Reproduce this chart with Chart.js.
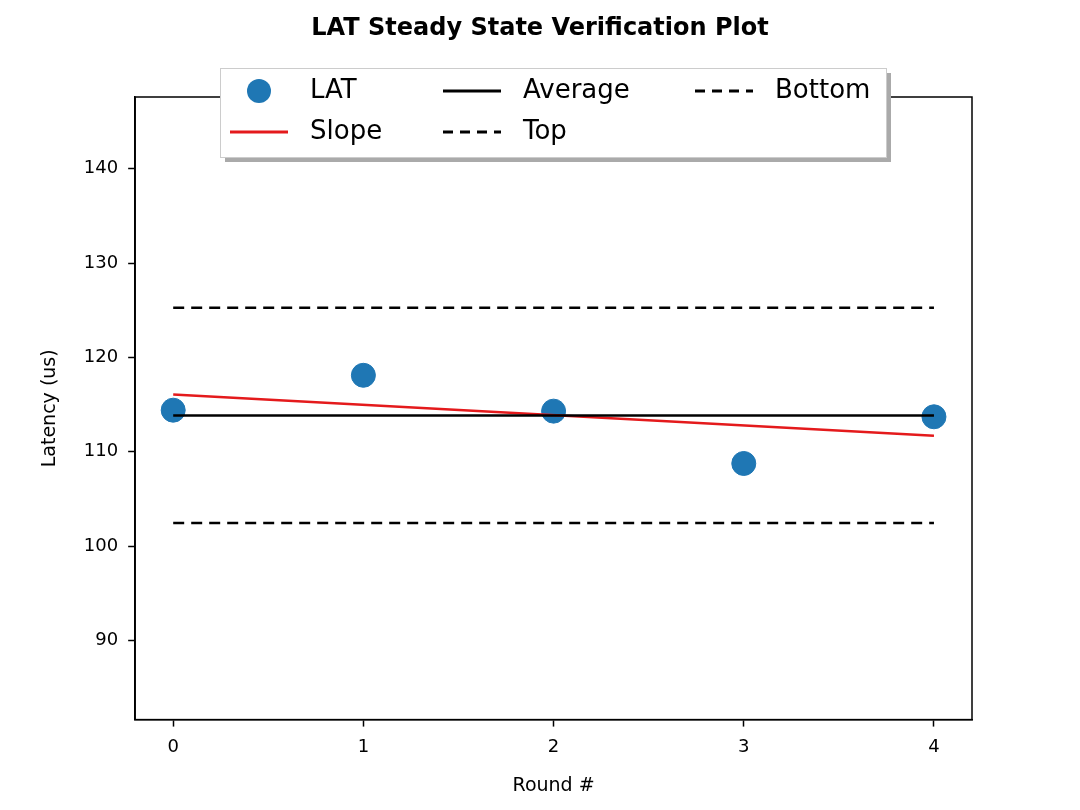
<!DOCTYPE html>
<html><head><meta charset="utf-8">
<script src="https://cdn.jsdelivr.net/npm/chart.js@4"></script>
<style>html,body{margin:0;background:#fff}#w{width:1080px;height:810px}</style>
</head><body><div id="w"><canvas id="c" width="1080" height="810"></canvas></div>
<script>
const rounds = [0, 1, 2, 3, 4];
const latency = [114.4, 118.1, 114.3, 108.75, 113.7];
const average = 113.85;
const top_ = 125.25;
const bottom = 102.45;
const slopeEnds = [116.05, 111.7];
const yTicks = [90, 100, 110, 120, 130, 140];
const titleText = 'LAT Steady State Verification Plot';
const legendItems = [
  {label:'LAT', type:'dot'}, {label:'Average', type:'solid', color:'#000'}, {label:'Bottom', type:'dash'},
  {label:'Slope', type:'solid', color:'#e41a1c'}, {label:'Top', type:'dash'}
];
const F = 'DejaVu Sans';
const legendPlugin = {
  id:'mplLegend',
  afterDraw(ch){
    const c = ch.ctx; c.save();
    c.fillStyle='#000'; c.font='bold 24px "'+F+'"'; c.textAlign='center'; c.textBaseline='middle';
    c.fillText(titleText,540,29);
    c.textAlign='left';
    const x0=220,y0=68,w=666,h=89;
    c.fillStyle='#aaa'; c.fillRect(x0+5,y0+5,w,h);
    c.fillStyle='#fff'; c.fillRect(x0,y0,w,h);
    c.strokeStyle='#ccc'; c.lineWidth=1; c.strokeRect(x0+0.5,y0+0.5,w,h);
    const cols=[230,443,695], rows=[91,132];
    c.font='26px "'+F+'"'; c.textBaseline='middle';
    legendItems.forEach((it,i)=>{
      const col=i%3,row=Math.floor(i/3);
      const lx=cols[col], ly=rows[row];
      if(it.type==='dot'){c.fillStyle='#1f77b4';c.beginPath();c.arc(lx+29,ly,12,0,7);c.fill();}
      else{c.strokeStyle=it.color||'#000';c.lineWidth=3;c.setLineDash(it.type==='dash'?[10,7]:[]);
        c.beginPath();c.moveTo(lx,ly);c.lineTo(lx+58,ly);c.stroke();c.setLineDash([]);}
      c.fillStyle='#000'; c.fillText(it.label,lx+80,ly);
    });
    c.restore();
  }
};
const hline = v => rounds.map(r=>({x:r,y:v}));
const gridOpt = {display:true,drawOnChartArea:false,drawTicks:true,tickLength:7,tickColor:'#000',tickWidth:1.5};
new Chart(document.getElementById('c'),{
  type:'scatter',
  data:{datasets:[
    {label:'Top',data:hline(top_),showLine:true,borderColor:'#000',borderWidth:2.5,borderDash:[11,7],pointRadius:0},
    {label:'Bottom',data:hline(bottom),showLine:true,borderColor:'#000',borderWidth:2.5,borderDash:[11,7],pointRadius:0},
    {label:'Average',data:hline(average),showLine:true,borderColor:'#000',borderWidth:2.5,pointRadius:0},
    {label:'Slope',data:[{x:rounds[0],y:slopeEnds[0]},{x:rounds[4],y:slopeEnds[1]}],showLine:true,borderColor:'#e41a1c',borderWidth:2.5,pointRadius:0},
    {label:'LAT',data:rounds.map((r,i)=>({x:r,y:latency[i]})),backgroundColor:'#1f77b4',borderColor:'#1f77b4',pointRadius:12}
  ]},
  options:{
    responsive:false,animation:false,
    layout:{padding:{top:97,right:108,left:35,bottom:9}},
    plugins:{legend:{display:false},tooltip:{enabled:false},title:{display:false}},
    scales:{
      x:{type:'linear',min:-0.2,max:4.2,afterBuildTicks:a=>{a.ticks=rounds.map(v=>({value:v}))},
        grid:gridOpt,border:{color:'#000',width:1.5},
        ticks:{color:'#000',font:{family:F,size:18},padding:10},
        title:{display:true,text:'Round #',color:'#000',font:{family:F,size:19},padding:{top:6}}},
      y:{min:81.6,max:147.6,afterBuildTicks:a=>{a.ticks=yTicks.map(v=>({value:v}))},
        grid:gridOpt,border:{color:'#000',width:1.5},
        ticks:{color:'#000',font:{family:F,size:18},padding:10},
        title:{display:true,text:'Latency (us)',color:'#000',font:{family:F,size:19},padding:{bottom:12}}}
    }
  },
  plugins:[{id:'frame',afterDraw(ch){const a=ch.chartArea,c=ch.ctx;c.save();c.strokeStyle='#000';c.lineWidth=1.5;
    c.strokeRect(a.left,a.top,a.right-a.left,a.bottom-a.top);c.restore();}},legendPlugin]
});
</script></body></html>
